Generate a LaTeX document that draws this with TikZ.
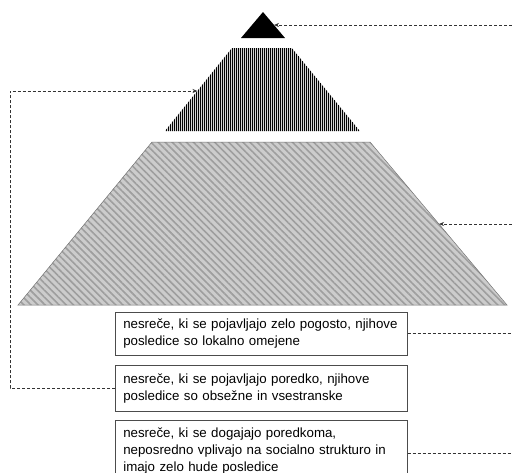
\documentclass[tikz,border=0pt]{standalone}
\usepackage{fontspec}
\setmainfont{Liberation Sans}
\usetikzlibrary{patterns.meta,arrows.meta}
\begin{document}
\begin{tikzpicture}[x=1pt,y=-1pt,
  box/.style={draw=black!70, line width=0.6pt, fill=white, anchor=north west,
    minimum width=292pt, text width=276pt, inner xsep=8pt, align=left,
    font=\fontsize{13.3}{17}\selectfont},
  link/.style={draw=black!80, line width=0.7pt, dash pattern=on 3pt off 2pt},
  tip/.style={-{Stealth[length=5pt,width=4pt]}}]
\useasboundingbox (0,0) rectangle (512,472);
% pyramid levels
\fill[black] (241,38) -- (263,12) -- (285,38) -- cycle;
\fill[preaction={fill=black!18}, pattern={Lines[angle=90,distance=2pt,line width=0.75pt]}, pattern color=black]
  (232,48) -- (292,48) -- (360,131) -- (165,131) -- cycle;
\filldraw[draw=black!55, line width=0.5pt, preaction={fill=black!20}, pattern={Lines[angle=-45,distance=5pt,line width=1.6pt]}, pattern color=black!38]
  (152,142) -- (370,142) -- (507,305) -- (18,305) -- cycle;
% target points
\coordinate (tA) at (274,25);
\coordinate (tB) at (197.5,91);
\coordinate (tC) at (439,224);
\coordinate (eA) at (512,25);
\coordinate (eC) at (512,224);
\coordinate (cB) at (10,91);
\coordinate (eR) at (512,0);
% boxes
\node[box, minimum height=43pt] (b1) at (115,312)
  {nesreče, ki se pojavljajo zelo pogosto, njihove\\posledice so lokalno omejene};
\node[box, minimum height=46pt] (b2) at (115,365)
  {nesreče, ki se pojavljajo poredko, njihove\\posledice so obsežne in vsestranske};
\node[box, inner ysep=7.5pt] (b3) at (115,420)
  {nesreče, ki se dogajajo poredkoma,\\neposredno vplivajo na socialno strukturo in\\imajo zelo hude posledice};
% connectors
\draw[link,tip] (eA) -- (tA);
\draw[link,tip] (eC) -- (tC);
\draw[link,tip] (b2.west) -| (cB) -- (tB);
\draw[link] (b1.east) -- (b1.east -| eR);
\draw[link] ([yshift=-2pt]b3.east) -- ([yshift=-2pt]b3.east -| eR);
\end{tikzpicture}
\end{document}
